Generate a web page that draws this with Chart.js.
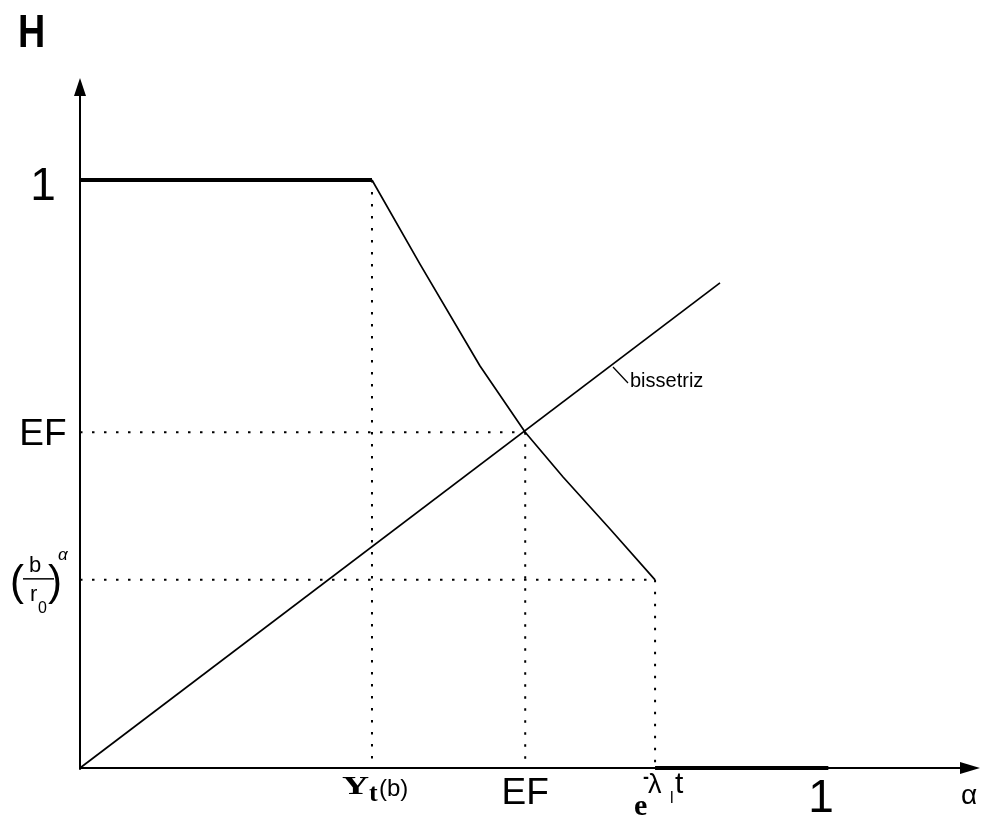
<!DOCTYPE html>
<html>
<head>
<meta charset="utf-8">
<script src="https://cdn.jsdelivr.net/npm/chart.js@4.4.1/dist/chart.umd.min.js"></script>
<style>
html,body{margin:0;padding:0;background:#fff;}
#wrap{width:988px;height:825px;}
</style>
</head>
<body>
<div id="wrap"><canvas id="c" width="988" height="825"></canvas></div>
<script>
// ---- data (unit scale: axis "1" = 1) ----
const Yt_b = 0.3935;        // Y_t(b) on the alpha axis
const EF_x = 0.600;          // EF on the alpha axis
const EF_y = 0.571;          // EF on the H axis
const eLambda = 0.775;       // e^{-lambda_l t}
const bR0 = 0.320;           // (b/r0)^alpha
const upperX = [0, 0.3935];
const upperY = [1, 1];
const curveX = [0.3935, 0.4582, 0.5391, 0.600, 0.651, 0.7143, 0.775];
const curveY = [1.0, 0.857, 0.6837, 0.571, 0.4949, 0.4065, 0.320];
const lowerX = [0.775, 1.0085];
const lowerY = [0, 0];
const bisX = [0, 0.8625];
const bisY = [0, 0.825];
const xTickLabels = ["Yt(b)", "EF", "e^-λt", "1"];
const yTickLabels = ["1", "EF", "(b/r0)^α"];
const X_MAX = 1.2129, Y_MAX = 1.1735;

const pts = (xs, ys) => xs.map((x, i) => ({x, y: ys[i]}));
const line = (xs, ys, w, dash) => ({
  data: pts(xs, ys), showLine: true, borderColor: '#000', borderWidth: w,
  pointRadius: 0, borderDash: dash || [], clip: false, tension: 0, fill: false,
  borderJoinStyle: 'round'
});
const dotted = [2.5, 9.5];

const labelsPlugin = {
  id: 'labels',
  afterDatasetsDraw(chart) {
    const ctx = chart.ctx, xs = chart.scales.x, ys = chart.scales.y;
    const X = v => xs.getPixelForValue(v), Y = v => ys.getPixelForValue(v);
    const x0 = X(0), y0 = Y(0);
    ctx.save();
    ctx.fillStyle = '#000'; ctx.strokeStyle = '#000';
    // axes arrows
    ctx.beginPath();
    ctx.moveTo(X(X_MAX), y0); ctx.lineTo(X(X_MAX) - 20, y0 - 6); ctx.lineTo(X(X_MAX) - 20, y0 + 6); ctx.closePath(); ctx.fill();
    ctx.beginPath();
    ctx.moveTo(x0, Y(Y_MAX)); ctx.lineTo(x0 - 6, Y(Y_MAX) + 18); ctx.lineTo(x0 + 6, Y(Y_MAX) + 18); ctx.closePath(); ctx.fill();

    const sans = 'Liberation Sans, Arial, sans-serif';
    const serif = 'Liberation Serif, Times New Roman, serif';
    ctx.textBaseline = 'alphabetic';
    // H
    ctx.save();
    ctx.font = 'bold 46px ' + sans;
    ctx.translate(18, 47); ctx.scale(0.82, 1);
    ctx.textAlign = 'left'; ctx.fillText('H', 0, 0);
    ctx.restore();

    // y tick labels
    ctx.textAlign = 'center';
    ctx.font = '46px ' + sans;
    ctx.fillText(yTickLabels[0], 43, Y(1) + 20);
    ctx.font = '37px ' + sans;
    ctx.fillText(yTickLabels[1], 43, Y(EF_y) + 13);
    // (b/r0)^alpha
    const yb = Y(bR0);
    ctx.textAlign = 'left';
    ctx.font = '42px ' + sans;
    ctx.fillText('(', 10, yb + 15);
    ctx.fillText(')', 48, yb + 15);
    ctx.font = '22px ' + sans;
    ctx.fillText('b', 29, yb - 8);
    ctx.fillText('r', 30, yb + 21);
    ctx.font = '16px ' + sans;
    ctx.fillText('0', 38, yb + 33);
    ctx.font = 'italic 17px ' + sans;
    ctx.fillText('α', 58, yb - 20);
    ctx.lineWidth = 1.5;
    ctx.beginPath(); ctx.moveTo(23, yb - 1); ctx.lineTo(54, yb - 1); ctx.stroke();

    // x tick labels
    // Y_t(b)
    let xp = X(Yt_b);
    ctx.save();
    ctx.font = 'bold 25px ' + serif;
    ctx.translate(xp - 30, y0 + 26); ctx.scale(1.5, 1);
    ctx.fillText('Y', 0, 0);
    ctx.restore();
    ctx.font = 'bold 26px ' + serif;
    ctx.fillText('t', xp - 3, y0 + 33);
    ctx.font = '24px ' + sans;
    ctx.fillText('(b)', xp + 7, y0 + 28);
    // EF
    ctx.textAlign = 'center';
    ctx.font = '37px ' + sans;
    ctx.fillText(xTickLabels[1], X(EF_x), y0 + 36);
    // e^{-lambda_l t}
    xp = X(eLambda);
    ctx.textAlign = 'left';
    ctx.font = 'bold 30px ' + serif;
    ctx.fillText('e', xp - 21, y0 + 47);
    ctx.font = '27px ' + sans;
    ctx.fillText('λ', xp - 7, y0 + 25);
    ctx.font = 'bold 18px ' + sans;
    ctx.fillText('-', xp - 12, y0 + 15);
    ctx.font = '16px ' + sans;
    ctx.fillText('l', xp + 15, y0 + 35);
    ctx.font = '30px ' + sans;
    ctx.fillText('t', xp + 20, y0 + 25);
    // 1
    ctx.textAlign = 'center';
    ctx.font = '46px ' + sans;
    ctx.fillText(xTickLabels[3], X(1) - 1, y0 + 44);
    // alpha axis label
    ctx.textAlign = 'left';
    ctx.font = '28px ' + sans;
    ctx.fillText('α', 961, y0 + 36);

    // bissetriz label with leader
    ctx.lineWidth = 1.2;
    ctx.beginPath(); ctx.moveTo(613, 367); ctx.lineTo(628, 383); ctx.stroke();
    ctx.font = '20px ' + sans;
    ctx.fillText('bissetriz', 630, 387);
    ctx.restore();
  }
};

new Chart(document.getElementById('c'), {
  type: 'scatter',
  data: {
    datasets: [
      line([0, X_MAX - 0.02], [0, 0], 2),          // alpha axis
      line([0, 0], [-0.003, Y_MAX - 0.02], 2),     // H axis
      line(upperX, upperY, 4),
      line(curveX, curveY, 1.7),
      line(lowerX, lowerY, 4),
      line(bisX, bisY, 1.7),
      line([Yt_b, Yt_b], [1, 0], 2, dotted),
      line([EF_x, EF_x], [EF_y, 0], 2, dotted),
      line([eLambda, eLambda], [bR0, 0], 2, dotted),
      line([0, EF_x], [EF_y, EF_y], 2, dotted),
      line([0, eLambda], [bR0, bR0], 2, dotted)
    ]
  },
  options: {
    responsive: false,
    animation: false,
    layout: {padding: {left: 80, right: 8, top: 78, bottom: 57}},
    plugins: {legend: {display: false}, tooltip: {enabled: false}, title: {display: false}},
    scales: {
      x: {type: 'linear', min: 0, max: X_MAX, display: false},
      y: {type: 'linear', min: 0, max: Y_MAX, display: false}
    }
  },
  plugins: [labelsPlugin]
});
</script>
</body>
</html>
